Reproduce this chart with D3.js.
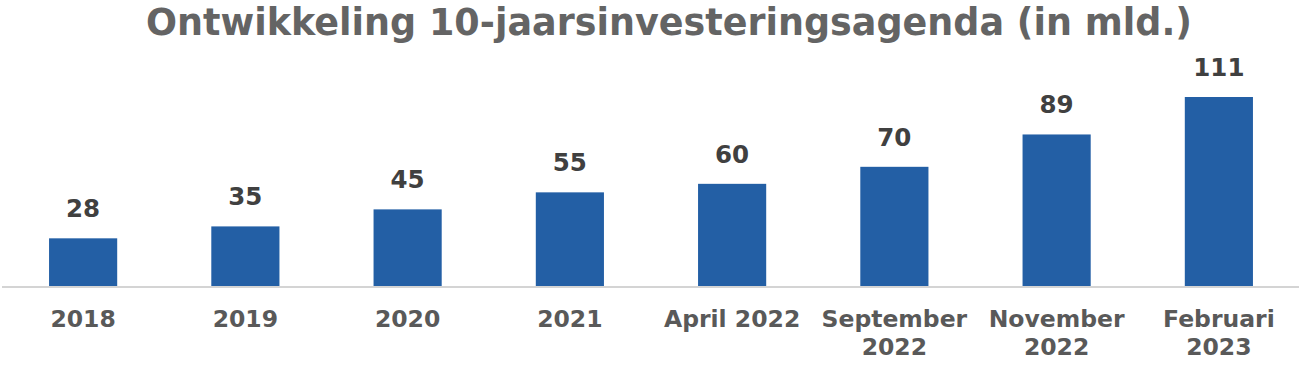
<!DOCTYPE html>
<html>
<head>
<meta charset="utf-8">
<script src="https://cdn.jsdelivr.net/npm/d3@7"></script>
<style>
  body { margin: 0; background: #fff; }
  text { font-family: "DejaVu Sans", Verdana, sans-serif; font-weight: bold; }
</style>
</head>
<body>
<svg width="1299" height="367"></svg>
<script>
var categories = [["2018"], ["2019"], ["2020"], ["2021"], ["April 2022"],
  ["September", "2022"], ["November", "2022"], ["Februari", "2023"]];
var values = [28, 35, 45, 55, 60, 70, 89, 111];
var title = "Ontwikkeling 10-jaarsinvesteringsagenda (in mld.)";

var svg = d3.select("svg"),
  baseY = 286;

var x = d3.scaleBand()
  .domain(d3.range(values.length))
  .range([2, 1300])
  .paddingInner(0.58)
  .paddingOuter(0.29);

var y = d3.scaleLinear().domain([0, 111]).range([baseY, 97]);

svg.append("text")
  .attr("x", 669)
  .attr("y", 35)
  .attr("text-anchor", "middle")
  .attr("fill", "#646464")
  .attr("textLength", 1046)
  .attr("lengthAdjust", "spacingAndGlyphs")
  .style("font-size", "37px")
  .text(title);

svg.selectAll(".bar")
  .data(values)
  .enter().append("rect")
  .attr("class", "bar")
  .attr("x", function(d, i) { return x(i); })
  .attr("y", function(d) { return y(d); })
  .attr("width", x.bandwidth())
  .attr("height", function(d) { return baseY - y(d); })
  .attr("fill", "#235FA5");

// baseline
svg.append("line")
  .attr("x1", 2).attr("x2", 1299)
  .attr("y1", baseY + 1).attr("y2", baseY + 1)
  .attr("stroke", "#d4d4d4")
  .attr("stroke-width", 2);

svg.selectAll(".val")
  .data(values)
  .enter().append("text")
  .attr("class", "val")
  .attr("x", function(d, i) { return x(i) + x.bandwidth() / 2; })
  .attr("y", function(d) { return y(d) - 21; })
  .attr("text-anchor", "middle")
  .attr("fill", "#404040")
  .style("font-size", "24.5px")
  .text(function(d) { return d; });

var lab = svg.selectAll(".cat")
  .data(categories)
  .enter().append("text")
  .attr("class", "cat")
  .attr("text-anchor", "middle")
  .attr("fill", "#595959")
  .style("font-size", "23.5px");

lab.selectAll("tspan")
  .data(function(d, i) { return d.map(function(t) { return {t: t, i: i}; }); })
  .enter().append("tspan")
  .attr("x", function(d) { return x(d.i) + x.bandwidth() / 2; })
  .attr("y", function(d, j) { return 327 + j * 28; })
  .text(function(d) { return d.t; });
</script>
</body>
</html>
